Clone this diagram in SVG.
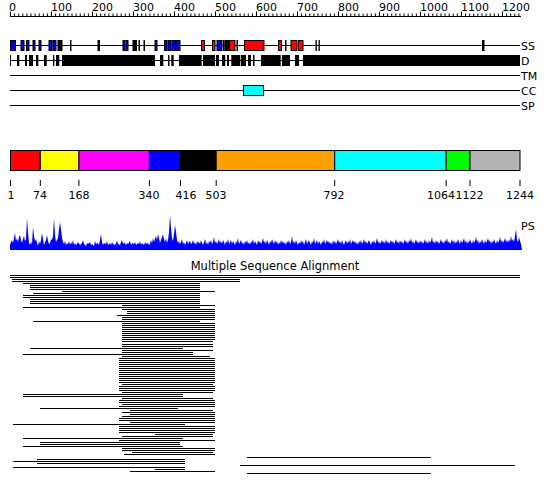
<svg xmlns="http://www.w3.org/2000/svg" width="550" height="495" viewBox="0 0 550 495">
<style>
text{font-family:"DejaVu Sans","Liberation Sans",sans-serif;font-size:11px;fill:#000}
.trk{stroke:#000;stroke-width:1;fill:none}
.bx{stroke:#000;stroke-width:1}
.b{fill:#0000ff}.r{fill:#ff0000}.k{fill:#000}
.msa{stroke:#000;stroke-width:1.2;fill:none}
.tick{stroke:#000;stroke-width:1}
</style>
<rect width="550" height="495" fill="#fff"/>
<g id="ruler">
<line x1="10" y1="16.5" x2="521" y2="16.5" class="tick"/>
<line x1="10" y1="15" x2="521" y2="15" stroke="#000" stroke-width="3" stroke-dasharray="1 3.0997"/>
<line x1="10" y1="14" x2="521" y2="14" stroke="#000" stroke-width="5" stroke-dasharray="1 39.997"/>
<text x="9" y="11">0</text><text x="51" y="11">100</text><text x="92" y="11">200</text><text x="133" y="11">300</text><text x="174" y="11">400</text><text x="215" y="11">500</text><text x="256" y="11">600</text><text x="297" y="11">700</text><text x="338" y="11">800</text><text x="379" y="11">900</text><text x="420" y="11">1000</text><text x="461" y="11">1100</text><text x="502" y="11">1200</text>
</g>
<g id="track-SS">
<line x1="10" y1="45.5" x2="520" y2="45.5" class="trk"/>
<g class="bx">
<rect x="10.5" y="40.5" width="5" height="10" class="b"/>
<rect x="21" y="40.5" width="3" height="10" class="b"/>
<rect x="26.5" y="40.5" width="2.5" height="10" class="b"/>
<rect x="33" y="40.5" width="2" height="10" class="b"/>
<rect x="39" y="40.5" width="2" height="10" class="b"/>
<rect x="49" y="40.5" width="3" height="10" class="b"/>
<rect x="53" y="40.5" width="3" height="10" class="b"/>
<rect x="58" y="40.5" width="4" height="10" class="k"/>
<rect x="70.5" y="40.5" width="0.5" height="10" class="k"/>
<rect x="98" y="40.5" width="1.5" height="10" class="k"/>
<rect x="123" y="40.5" width="2" height="10" class="b"/>
<rect x="126" y="40.5" width="2" height="10" class="b"/>
<rect x="133" y="40.5" width="3.5" height="10" class="k"/>
<rect x="139" y="40.5" width="0.5" height="10" class="k"/>
<rect x="144" y="40.5" width="0.5" height="10" class="k"/>
<rect x="155" y="40.5" width="2" height="10" class="b"/>
<rect x="164.5" y="40.5" width="2.5" height="10" class="b"/>
<rect x="168" y="40.5" width="3" height="10" class="b"/>
<rect x="172" y="40.5" width="4" height="10" class="b"/>
<rect x="176" y="40.5" width="4" height="10" class="b"/>
<rect x="201.5" y="40.5" width="3" height="10" class="r"/>
<rect x="212.5" y="40.5" width="2.5" height="10" class="r"/>
<rect x="217" y="40.5" width="4.5" height="10" class="b"/>
<rect x="223" y="40.5" width="1" height="10" class="k"/>
<rect x="225" y="40.5" width="1" height="10" class="b"/>
<rect x="226.5" y="40.5" width="1" height="10" class="k"/>
<rect x="228" y="40.5" width="1" height="10" class="k"/>
<rect x="229.5" y="40.5" width="5.5" height="10" class="r"/>
<rect x="237" y="40.5" width="0.5" height="10" class="k"/>
<rect x="244.5" y="40.5" width="19.5" height="10" class="r"/>
<rect x="278.5" y="40.5" width="3" height="10" class="r"/>
<rect x="285.5" y="40.5" width="0.5" height="10" class="b"/>
<rect x="291" y="40.5" width="6" height="10" class="r"/>
<rect x="298.5" y="40.5" width="4.5" height="10" class="r"/>
<rect x="316" y="40.5" width="0.3" height="10" class="k"/>
<rect x="319" y="40.5" width="0.3" height="10" class="k"/>
<rect x="482.5" y="40.5" width="1.5" height="10" class="k"/>
</g>
<text x="521" y="50">SS</text>
</g>
<g id="track-D">
<line x1="10" y1="60.5" x2="520" y2="60.5" class="trk"/>
<g class="k">
<rect x="10" y="55" width="1" height="11"/>
<rect x="17" y="55" width="2.3" height="11"/>
<rect x="25" y="55" width="2" height="11"/>
<rect x="29" y="55" width="4" height="11"/>
<rect x="36" y="55" width="2.3" height="11"/>
<rect x="44" y="55" width="2.7" height="11"/>
<rect x="53" y="55" width="1.3" height="11"/>
<rect x="56" y="55" width="3.3" height="11"/>
<rect x="62" y="55" width="93" height="11"/>
<rect x="160" y="55" width="3.3" height="11"/>
<rect x="168" y="55" width="1.5" height="11"/>
<rect x="171.3" y="55" width="2.4" height="11"/>
<rect x="179" y="55" width="22.7" height="11"/>
<rect x="203" y="55" width="12" height="11"/>
<rect x="216" y="55" width="3" height="11"/>
<rect x="222" y="55" width="3.3" height="11"/>
<rect x="227" y="55" width="2" height="11"/>
<rect x="231.3" y="55" width="9" height="11"/>
<rect x="241" y="55" width="5" height="11"/>
<rect x="248" y="55" width="3" height="11"/>
<rect x="253" y="55" width="1.5" height="11"/>
<rect x="261" y="55" width="19.7" height="11"/>
<rect x="282" y="55" width="8" height="11"/>
<rect x="295" y="55" width="4" height="11"/>
<rect x="303" y="55" width="217" height="11"/>
</g>
<text x="521" y="65">D</text>
</g>
<g id="track-TM">
<line x1="10" y1="75.5" x2="520" y2="75.5" class="trk"/>
<text x="521" y="80">TM</text>
</g>
<g id="track-CC">
<line x1="10" y1="90.5" x2="520" y2="90.5" class="trk"/>
<rect x="243.5" y="85.5" width="20" height="10" fill="#00ffff" class="bx"/>
<text x="521" y="95">CC</text>
</g>
<g id="track-SP">
<line x1="10" y1="105.5" x2="520" y2="105.5" class="trk"/>
<text x="521" y="110">SP</text>
</g>
<g id="domains">
<g class="bx">
<rect x="10.5" y="150.5" width="29.8" height="20" fill="#ff0000"/>
<rect x="40.3" y="150.5" width="38.6" height="20" fill="#ffff00"/>
<rect x="78.9" y="150.5" width="70.5" height="20" fill="#ff00ff"/>
<rect x="149.4" y="150.5" width="31.1" height="20" fill="#0000ff"/>
<rect x="180.5" y="150.5" width="35.7" height="20" fill="#000000"/>
<rect x="216.2" y="150.5" width="118.5" height="20" fill="#ffa000"/>
<rect x="334.7" y="150.5" width="111.5" height="20" fill="#00ffff"/>
<rect x="446.2" y="150.5" width="23.8" height="20" fill="#00ff00"/>
<rect x="470" y="150.5" width="50" height="20" fill="#b4b4b4"/>
</g>
<path class="tick" d="M10.5 180V186M40.3 180V186M78.9 180V186M149.4 180V186M180.5 180V186M216.2 180V186M334.7 180V186M446.2 180V186M470 180V186M520 180V186"/>
<g text-anchor="middle">
<text x="11" y="199">1</text><text x="40" y="199">74</text><text x="79" y="199">168</text><text x="149" y="199">340</text><text x="186" y="199">416</text><text x="216" y="199">503</text><text x="334" y="199">792</text><text x="520" y="199">1244</text>
</g>
<text x="455" y="199" text-anchor="end">1064</text><text x="455.5" y="199">1122</text>
</g>
<g id="ps-plot">
<path fill="#0000ff" d="M10 250 L10 245 L11 242 L12 240 L13 243 L14 238 L15 233 L16 241 L17 238 L18 242 L19 237 L20 235 L21 240 L22 243 L23 239 L24 236 L25 241 L26 239 L27 218 L28 232 L29 243 L30 245 L31 242 L32 244 L33 227 L34 236 L35 241 L36 239 L37 243 L38 246 L39 241 L40 244 L41 240 L42 233 L43 239 L44 245 L45 242 L46 240 L47 235 L48 241 L49 244 L50 243 L51 239 L52 240 L53 236 L54 218 L55 235 L56 242 L57 240 L58 238 L59 230 L60 222 L61 229 L62 238 L63 242 L64 244 L65 241 L66 245 L67 243 L68 244 L69 241 L70 245 L71 242 L72 244 L73 240 L74 245 L75 243 L76 245 L77 244 L78 242 L80 245 L82 243 L83 240 L84 244 L86 246 L87 243 L88 244 L90 242 L91 245 L92 244 L94 246 L95 241 L96 244 L98 243 L99 245 L100 240 L101 234 L102 242 L103 245 L104 243 L106 244 L107 241 L108 245 L110 243 L111 245 L112 242 L113 244 L115 245 L116 243 L117 241 L118 244 L120 245 L121 242 L122 240 L123 244 L124 242 L126 245 L127 243 L128 244 L130 241 L131 245 L132 243 L134 244 L135 242 L136 245 L138 243 L139 244 L140 241 L141 245 L142 243 L144 245 L145 242 L146 244 L148 243 L149 245 L150 244 L151 240 L152 243 L153 238 L154 242 L155 239 L156 236 L157 240 L158 234 L159 238 L160 243 L161 240 L162 237 L163 234 L164 239 L165 242 L166 238 L167 243 L168 240 L169 232 L170 215 L171 228 L172 238 L173 241 L174 234 L175 225 L176 232 L177 240 L178 243 L179 241 L180 244 L181 242 L182 239 L183 244 L184 242 L185 245 L186 243 L187 240 L188 244 L189 242 L190 241 L191 244 L192 243 L193 240 L194 244 L195 242 L196 245 L197 241 L198 243 L199 242 L200 244 L201 240 L202 243 L203 245 L204 242 L205 239 L206 244 L207 242 L208 245 L209 241 L210 243 L211 240 L212 244 L213 242 L214 237 L215 243 L216 241 L217 244 L218 242 L219 239 L220 243 L221 241 L222 244 L223 240 L224 242 L225 245 L226 241 L227 243 L228 239 L229 244 L230 242 L231 240 L232 244 L233 241 L234 243 L235 245 L236 241 L237 243 L238 238 L239 244 L240 242 L241 240 L242 244 L243 242 L244 245 L245 241 L246 243 L247 240 L248 244 L249 242 L250 245 L251 241 L252 243 L253 239 L254 244 L255 241 L256 243 L257 245 L258 240 L259 243 L260 241 L261 244 L262 242 L263 238 L264 243 L265 241 L266 244 L267 240 L268 242 L269 245 L270 241 L271 243 L272 239 L273 242 L274 244 L275 240 L276 243 L277 241 L278 245 L279 242 L280 244 L281 240 L282 243 L283 241 L284 244 L285 242 L286 245 L287 241 L288 243 L289 240 L290 244 L291 242 L292 236 L293 243 L294 241 L295 244 L296 240 L297 243 L298 245 L299 242 L300 244 L301 240 L302 243 L303 241 L304 245 L305 242 L306 239 L307 244 L308 242 L309 240 L310 243 L311 245 L312 241 L313 243 L314 238 L315 244 L316 242 L317 240 L318 244 L319 241 L320 243 L321 245 L322 241 L323 243 L324 239 L325 244 L326 242 L327 240 L328 243 L329 241 L330 244 L331 242 L332 245 L333 240 L334 243 L335 241 L336 244 L337 242 L338 239 L339 243 L340 241 L341 244 L342 240 L343 243 L344 245 L345 242 L346 240 L347 244 L348 241 L349 243 L350 239 L351 244 L352 242 L353 240 L354 243 L355 241 L356 244 L357 242 L358 245 L359 241 L360 243 L361 240 L362 244 L363 242 L364 239 L365 243 L366 241 L367 244 L368 242 L369 240 L370 243 L371 245 L372 241 L373 243 L374 240 L375 244 L376 242 L377 238 L378 243 L379 241 L380 244 L381 242 L382 240 L383 243 L384 241 L385 244 L386 239 L387 243 L388 241 L389 244 L390 242 L391 240 L392 243 L393 241 L394 244 L395 242 L396 239 L397 243 L398 241 L399 244 L400 240 L401 243 L402 241 L403 244 L404 242 L405 239 L406 243 L407 241 L408 244 L409 240 L410 242 L411 238 L412 243 L413 241 L414 244 L415 242 L416 239 L417 243 L418 241 L419 244 L420 240 L421 243 L422 241 L423 244 L424 242 L425 239 L426 243 L427 241 L428 244 L429 240 L430 243 L431 241 L432 237 L433 243 L434 241 L435 244 L436 240 L437 243 L438 241 L439 244 L440 242 L441 239 L442 243 L443 241 L444 244 L445 240 L446 242 L447 238 L448 243 L449 241 L450 244 L451 242 L452 239 L453 243 L454 240 L455 244 L456 241 L457 243 L458 239 L459 242 L460 244 L461 240 L462 243 L463 241 L464 238 L465 243 L466 240 L467 244 L468 241 L469 243 L470 239 L471 242 L472 244 L473 240 L474 243 L475 241 L476 237 L477 242 L478 240 L479 244 L480 241 L481 243 L482 239 L483 242 L484 244 L485 240 L486 243 L487 241 L488 238 L489 242 L490 240 L491 244 L492 241 L493 243 L494 239 L495 242 L496 244 L497 240 L498 243 L499 241 L500 237 L501 242 L502 240 L503 243 L504 241 L505 238 L506 242 L507 240 L508 243 L509 239 L510 242 L511 236 L512 241 L513 239 L514 242 L515 236 L516 229 L517 240 L518 242 L519 237 L520 241 L521 244 L522 250 Z"/>
<text x="521" y="230">PS</text>
</g>
<g id="msa">
<text x="275" y="270" text-anchor="middle" style="font-size:11.5px">Multiple Sequence Alignment</text>
<path class="msa" d="M10 275.5H520M10 277.5H520M12 279.5H240M12 281.5H240M23 283.5H200M30 285.5H200M30 287.5H200M30 289.5H200M62 291.5H215M33 293.5H200M23 295.5H200M23 297.5H200M30 299.5H200M30 301.5H200M30 303.5H200M122 305.5H215M23 307.5H200M122 309.5H215M127 311.5H215M127 313.5H215M117 315.5H215M122 317.5H215M122 319.5H215M33 321.5H200M122 323.5H215M122 325.5H215M122 327.5H215M122 329.5H215M122 331.5H215M122 333.5H215M122 335.5H215M122 337.5H215M122 339.5H215M122 341.5H213M122 344.5H213M122 346.5H213M30 348.5H183M122 350.5H213M122 352.5H193M23 354.5H193M122 356.5H210M119 358.5H215M119 360.5H215M119 362.5H215M119 364.5H215M119 366.5H215M119 368.5H215M119 370.5H215M119 372.5H215M119 374.5H215M119 376.5H215M119 378.5H215M119 380.5H215M119 382.5H215M122 384.5H213M119 386.5H215M119 388.5H215M119 390.5H215M122 392.5H213M23 394.5H183M23 396.5H183M122 398.5H213M119 400.5H215M119 402.5H215M122 404.5H215M119 406.5H215M40 408.5H178M130 410.5H213M122 412.5H215M130 414.5H215M122 416.5H215M119 418.5H215M119 420.5H215M130 422.5H215M13 424.5H185M119 426.5H215M119 428.5H215M119 430.5H215M119 432.5H215M155 434.5H213M122 436.5H213M23 438.5H183M119 440.5H215M40 442.5H180M40 444.5H180M23 446.5H183M122 448.5H215M122 450.5H215M132 452.5H213M124 454.5H215M247 457.5H431M37 459.5H185M13 461.5H185M37 463.5H185M240 465.5H515M13 467.5H185M155 469.5H185M130 471.5H215M247 473.5H431"/>
</g>
</svg>
